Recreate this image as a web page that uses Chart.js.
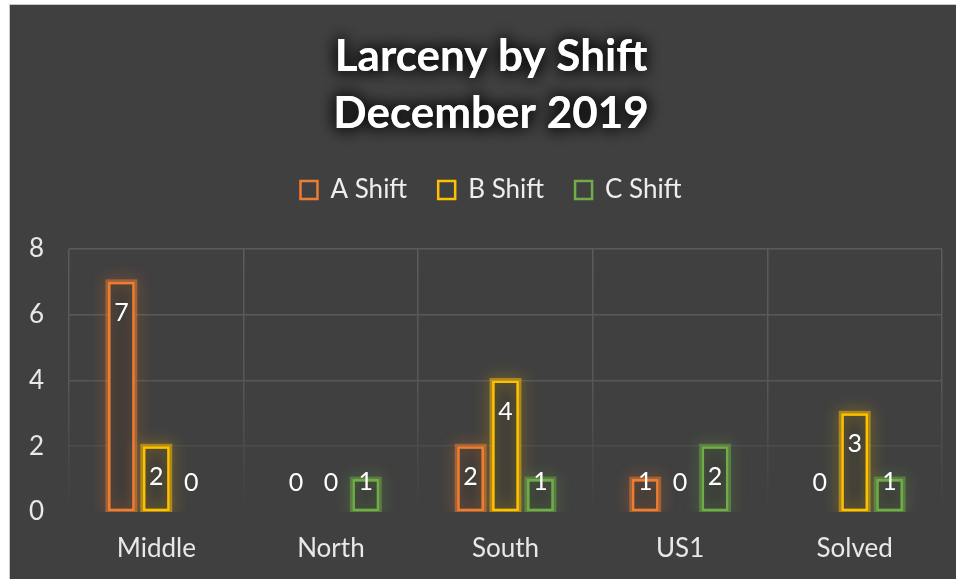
<!DOCTYPE html>
<html>
<head>
<meta charset="utf-8">
<title>Larceny by Shift</title>
<script src="https://cdn.jsdelivr.net/npm/chart.js@4.4.1/dist/chart.umd.min.js"></script>
<style>
  html, body { margin: 0; padding: 0; background: #ffffff; overflow: hidden; }
  #wrap {
    position: absolute; left: 9px; top: 4px;
    width: 962px; height: 575px;
    background: #404040;
    border-left: 1px solid #c8c8c8; border-top: 1px solid #c8c8c8;
  }
</style>
</head>
<body>
<div id="wrap"><canvas id="chart" width="962" height="575"></canvas></div>
<script>
// chart data
const categories = ['Middle', 'North', 'South', 'US1', 'Solved'];
const aShift = [7, 0, 2, 1, 0];
const bShift = [2, 0, 4, 0, 3];
const cShift = [0, 1, 1, 2, 1];
const seriesNames = ['A Shift', 'B Shift', 'C Shift'];
const seriesColors = ['#ED7D31', '#FFC000', '#70AD47'];
const yTicks = [0, 2, 4, 6, 8];
const titleLines = ['Larceny by Shift', 'December 2019'];

const FONT = 'Lato, "Open Sans", sans-serif';

function rgba(hex, a) {
    const n = parseInt(hex.slice(1), 16);
    return 'rgba(' + (n >> 16) + ',' + ((n >> 8) & 255) + ',' + (n & 255) + ',' + a + ')';
}

// gridlines fade out towards the bottom of the plot
function gridColor(c) {
    const area = c.chart.chartArea;
    if (!area) return '#585858';
    const g = c.chart.ctx.createLinearGradient(0, area.top, 0, area.bottom);
    g.addColorStop(0, '#5b5b5b');
    g.addColorStop(0.5, '#575757');
    g.addColorStop(0.8, '#494949');
    g.addColorStop(1, '#404040');
    return g;
}

/**
 * Dark fill and soft glow behind the outlined bars
 */
const barGlow = {
    id: 'barGlow',
    beforeDatasetsDraw(chart) {
        const {ctx, chartArea: a} = chart;
        ctx.save();
        ctx.beginPath();
        ctx.rect(a.left, a.top - 30, a.right - a.left, a.bottom - a.top + 30);
        ctx.clip();
        chart.data.datasets.forEach((ds, i) => {
            const col = seriesColors[i];
            chart.getDatasetMeta(i).data.forEach((bar, j) => {
                if (!ds.data[j]) return;
                const p = bar.getProps(['x', 'y', 'base', 'width'], true);
                const left = p.x - p.width / 2;
                ctx.shadowColor = 'rgba(0,0,0,0)';
                ctx.fillStyle = '#3a3a3a';
                ctx.fillRect(left, p.y, p.width, p.base - p.y);
                ctx.shadowColor = rgba(col, 0.9);
                ctx.shadowBlur = 15;
                ctx.strokeStyle = rgba(col, 0.5);
                ctx.lineWidth = 5;
                ctx.strokeRect(left, p.y, p.width, p.base - p.y);
            });
        });
        ctx.restore();
    }
};

/**
 * Value labels near the top of each bar
 */
const barLabels = {
    id: 'barLabels',
    afterDatasetsDraw(chart) {
        const ctx = chart.ctx;
        ctx.save();
        ctx.font = '25px ' + FONT;
        ctx.fillStyle = '#ffffff';
        ctx.textAlign = 'center';
        ctx.textBaseline = 'middle';
        chart.data.datasets.forEach((ds, i) => {
            chart.getDatasetMeta(i).data.forEach((bar, j) => {
                const y = Math.min(bar.y + 31, bar.base - 29);
                ctx.fillText(String(ds.data[j]), bar.x, y);
            });
        });
        ctx.restore();
    }
};

// dark halo round the title, extra room under the legend
const layoutTweaks = {
    id: 'layoutTweaks',
    beforeInit(chart) {
        const t = chart.titleBlock;
        const drawTitle = t.draw.bind(t);
        t.draw = function (area) {
            const ctx = this.ctx;
            ctx.save();
            ctx.shadowColor = 'rgba(0,0,0,1)';
            ctx.shadowBlur = 16;
            drawTitle(area);
            drawTitle(area);
            ctx.restore();
        };
        const lg = chart.legend;
        const fitLegend = lg.fit.bind(lg);
        lg.fit = function () {
            fitLegend();
            this.height += 36;
        };
    }
};

const datasets = [aShift, bShift, cShift].map((values, i) => ({
    label: seriesNames[i],
    data: values,
    backgroundColor: 'rgba(0,0,0,0)',
    borderColor: seriesColors[i],
    borderWidth: 2.5,
    borderSkipped: false,
    categoryPercentage: 0.6,
    barPercentage: 0.77
}));

new Chart(document.getElementById('chart'), {
    type: 'bar',
    data: {
        labels: categories,
        datasets: datasets
    },
    plugins: [barGlow, barLabels, layoutTweaks],
    options: {
        responsive: false,
        animation: false,
        devicePixelRatio: 1,
        layout: {
            padding: {top: 0, left: 0, right: 0, bottom: 17}
        },
        scales: {
            x: {
                grid: {
                    color: gridColor,
                    lineWidth: 1.5,
                    drawTicks: false,
                    offset: true
                },
                border: {display: false},
                ticks: {
                    color: '#e8e8e8',
                    padding: 21,
                    font: {family: FONT, size: 26}
                },
                afterFit(s) { s.height = 51; }
            },
            y: {
                min: 0,
                max: 8,
                grid: {
                    color: gridColor,
                    lineWidth: 1.5,
                    drawTicks: false
                },
                border: {display: false},
                ticks: {
                    color: '#e8e8e8',
                    padding: 25,
                    font: {family: FONT, size: 26}
                },
                afterBuildTicks(s) { s.ticks = yTicks.map(v => ({value: v})); },
                afterFit(s) { s.width = 59; }
            },
            yRight: {
                position: 'right',
                grid: {display: false},
                border: {display: false},
                ticks: {display: false},
                afterFit(s) { s.width = 30; }
            }
        },
        plugins: {
            title: {
                display: true,
                text: titleLines,
                color: '#ffffff',
                font: {family: FONT, size: 44, weight: 'bold', lineHeight: 1.295},
                padding: {top: 23.5, bottom: 3.5}
            },
            legend: {
                display: true,
                labels: {
                    color: '#eeeeee',
                    boxWidth: 17,
                    boxHeight: 18,
                    padding: 31,
                    font: {family: FONT, size: 26}
                }
            },
            tooltip: {enabled: false}
        }
    }
});
</script>
</body>
</html>
